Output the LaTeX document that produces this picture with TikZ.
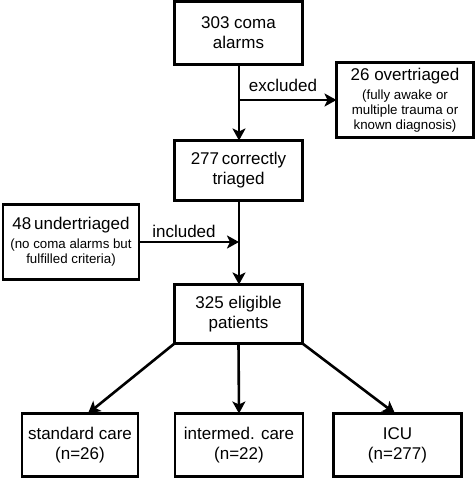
\documentclass[tikz,border=0pt]{standalone}
\usepackage{fontspec}
\setmainfont{Liberation Sans}
\usetikzlibrary{arrows.meta}
\tikzset{
  box/.style={draw=black, line width=2.6pt, align=center, inner sep=0pt, outer sep=0pt,
    font=\fontsize{17}{20}\selectfont},
  arr/.style={line width=2.6pt, -{Stealth[length=12pt,width=13pt,inset=3pt]}},
  ln/.style={line width=2.6pt},
  lbl/.style={font=\fontsize{17}{20}\selectfont, inner sep=0pt},
}
\newcommand{\smalltxt}{\fontsize{13.3}{15}\selectfont}
\begin{document}
\begin{tikzpicture}[x=1pt,y=-1pt]
\useasboundingbox (0,0) rectangle (475,478);
\node[box, minimum width=128pt, minimum height=63pt] (top) at (238.5,33) {303 coma\\alarms};
\node[box, minimum width=137pt, minimum height=75pt] (over) at (405,100)
  {26 overtriaged\\[-1pt]{\smalltxt (fully awake or}\\[-5pt]{\smalltxt multiple trauma or}\\[-5pt]{\smalltxt known diagnosis)}};
\node[box, minimum width=128pt, minimum height=60pt] (corr) at (238.5,170.5) {277\,correctly\\triaged};
\node[box, minimum width=136pt, minimum height=75pt] (under) at (71,242)
  {48\,undertriaged\\[-1pt]{\smalltxt (no coma alarms but}\\[-5pt]{\smalltxt fulfilled criteria)}};
\node[box, minimum width=128pt, minimum height=59pt] (elig) at (238.5,314) {325 eligible\\patients};
\node[box, minimum width=116pt, minimum height=63pt] (std) at (80,445) {standard care\\(n=26)};
\node[box, minimum width=128pt, minimum height=63pt] (mid) at (239,445) {intermed. care\\(n=22)};
\node[box, minimum width=128pt, minimum height=63pt] (icu) at (397.5,445) {ICU\\(n=277)};

\coordinate (b1) at (239,100);
\coordinate (b2) at (239,242);
\draw[arr] (top.south -| b1) -- (corr.north -| b1);
\draw[arr] (b1) -- (over.west);
\node[lbl, anchor=base] (exl) at (283,92) {excluded};
\draw[arr] (corr.south -| b2) -- (elig.north -| b2);
\draw[arr] (under.east) -- (b2);
\node[lbl, anchor=base] (inl) at (184,237) {included};
\draw[arr] (elig.south west) -- (std.north -| 88,0);
\draw[arr] (elig.south) -- (mid.north);
\draw[arr] (elig.south east) -- (icu.north -| 395,0);
\end{tikzpicture}
\end{document}
